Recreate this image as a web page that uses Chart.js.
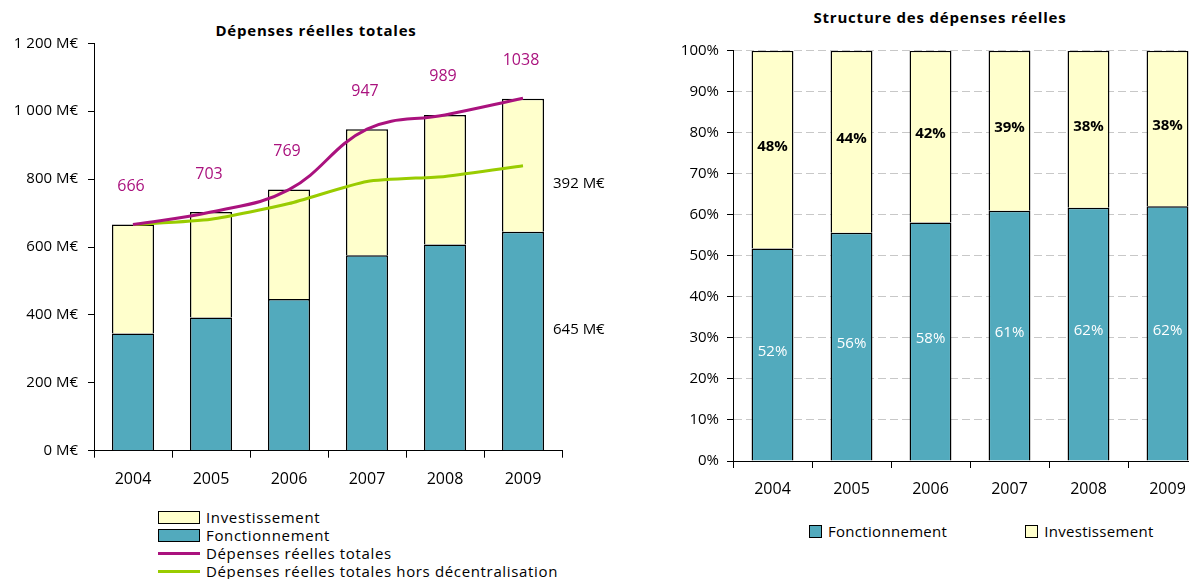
<!DOCTYPE html>
<html>
<head>
<meta charset="utf-8">
<script src="https://cdn.jsdelivr.net/npm/chart.js@4.4.0/dist/chart.umd.min.js"></script>
<style>
  body { margin: 0; width: 1189px; height: 579px; overflow: hidden; background: #fff; font-family: "Open Sans", "Noto Sans", sans-serif; color: #000; }
  .title { position: absolute; font-weight: bold; font-size: 15px; white-space: nowrap; transform: translate(-50%, -50%); letter-spacing: 0.8px; }
  canvas { position: absolute; top: 0; }
  .legend { position: absolute; font-size: 15px; letter-spacing: 0.3px; }
  #legendLeft { letter-spacing: 0.65px; }
  .legend .row { display: flex; align-items: center; height: 18px; }
  .legend .item { display: inline-flex; align-items: center; }
  .sw { display: inline-block; box-sizing: border-box; border: 1.5px solid #000; }
  .ln { display: inline-block; height: 3px; }
</style>
</head>
<body>
<div class="title" style="left:316px; top:30px;">Dépenses réelles totales</div>
<div class="title" style="left:940px; top:17px;">Structure des dépenses réelles</div>
<canvas id="left" width="610" height="500" style="left:0"></canvas>
<canvas id="right" width="620" height="510" style="left:600px"></canvas>
<div id="legendLeft" class="legend" style="left:158px; top:508px;"></div>
<div id="legendRight" class="legend" style="left:809px; top:522px;"></div>
<script>
const years = ['2004', '2005', '2006', '2007', '2008', '2009'];
const fonctionnement = [345, 392, 447, 576, 607, 645];
const investissement = [321, 311, 322, 371, 382, 392];
const depensesTotales = [666, 703, 769, 947, 989, 1038];
const horsDecentralisation = [666, 682, 728, 793, 808, 839];
const partFonct = [51.8, 55.6, 58.1, 61.0, 61.7, 62.1];
const partInvest = [48.2, 44.4, 41.9, 39.0, 38.3, 37.9];
const sideNotes = [{ text: '392 M€', value: 785 }, { text: '645 M€', value: 355 }];

const TEAL = '#52aabd';
const CREAM = '#ffffcc';
const MAGENTA = '#aa127e';
const GREEN = '#99cc00';

Chart.defaults.font.family = '"Open Sans", "Noto Sans", sans-serif';
Chart.defaults.color = '#000';

const euro = v => (v >= 1000 ? Math.floor(v / 1000) + ' ' + String(v % 1000).padStart(3, '0') : v) + ' M€';

const totalLabels = {
  id: 'totalLabels',
  afterDatasetsDraw(chart) {
    const ctx = chart.ctx;
    const meta = chart.getDatasetMeta(0);
    ctx.save();
    ctx.fillStyle = MAGENTA;
    ctx.font = '500 16px "Open Sans", "Noto Sans", sans-serif';
    ctx.textAlign = 'center';
    ctx.textBaseline = 'middle';
    meta.data.forEach((pt, i) => {
      ctx.fillText(String(depensesTotales[i]), pt.x - 2, pt.y - 38);
    });
    ctx.fillStyle = '#000';
    ctx.font = '15px "Open Sans", "Noto Sans", sans-serif';
    ctx.textAlign = 'left';
    sideNotes.forEach(n => {
      ctx.fillText(n.text, chart.chartArea.right - 9, chart.scales.y.getPixelForValue(n.value));
    });
    ctx.restore();
  }
};

const leftChart = new Chart(document.getElementById('left'), {
  type: 'bar',
  data: {
    labels: years,
    datasets: [
      { type: 'line', label: 'Dépenses réelles totales', data: depensesTotales, borderColor: MAGENTA, borderWidth: 3, tension: 0.4, pointRadius: 0, stack: 'l1', order: 0 },
      { type: 'line', label: 'Dépenses réelles totales hors décentralisation', data: horsDecentralisation, borderColor: GREEN, borderWidth: 3, tension: 0.2, pointRadius: 0, stack: 'l2', order: 0 },
      { label: 'Fonctionnement', data: fonctionnement, backgroundColor: TEAL, borderColor: '#000', borderWidth: 1.5, stack: 'bars', order: 1 },
      { label: 'Investissement', data: investissement, backgroundColor: CREAM, borderColor: '#000', borderWidth: 1.5, stack: 'bars', order: 1 }
    ]
  },
  options: {
    responsive: false,
    animation: false,
    layout: { padding: { top: 43.3, right: 48, left: 0, bottom: 0 } },
    datasets: { bar: { categoryPercentage: 1, barPercentage: 0.54 } },
    plugins: { legend: { display: false }, tooltip: { enabled: false } },
    scales: {
      x: {
        stacked: true,
        grid: { offset: true, drawOnChartArea: false, tickLength: 7, color: '#000' },
        border: { color: '#000' },
        ticks: { padding: 12, font: { size: 16 } },
        afterFit: s => { s.height = 49.3; }
      },
      y: {
        stacked: true,
        min: 0,
        max: 1200,
        ticks: { stepSize: 200, callback: v => euro(v), padding: 10, font: { size: 15 } },
        grid: { drawOnChartArea: false, tickLength: 6, color: '#000' },
        border: { color: '#000' },
        afterFit: s => { s.width = 94; }
      }
    }
  },
  plugins: [totalLabels]
});

const shareLabels = {
  id: 'shareLabels',
  afterDatasetsDraw(chart) {
    const ctx = chart.ctx;
    ctx.save();
    ctx.textAlign = 'center';
    ctx.textBaseline = 'middle';
    [[0, partFonct, '#fff', 'normal'], [1, partInvest, '#000', 'bold']].forEach(([idx, vals, color, weight]) => {
      chart.getDatasetMeta(idx).data.forEach((bar, i) => {
        ctx.fillStyle = color;
        ctx.font = weight + ' 15px "Open Sans", "Noto Sans", sans-serif';
        ctx.fillText(Math.round(vals[i]) + '%', bar.x, (bar.y + bar.base) / 2 - 3);
      });
    });
    ctx.restore();
  }
};

const rightChart = new Chart(document.getElementById('right'), {
  type: 'bar',
  data: {
    labels: years,
    datasets: [
      { label: 'Fonctionnement', data: partFonct, backgroundColor: TEAL, borderColor: '#000', borderWidth: 1.5 },
      { label: 'Investissement', data: partInvest, backgroundColor: CREAM, borderColor: '#000', borderWidth: 1.5 }
    ]
  },
  options: {
    responsive: false,
    animation: false,
    layout: { padding: { top: 50.7, right: 13, left: 0, bottom: 0 } },
    datasets: { bar: { categoryPercentage: 1, barPercentage: 0.53 } },
    plugins: { legend: { display: false }, tooltip: { enabled: false } },
    scales: {
      x: {
        stacked: true,
        grid: { offset: true, drawOnChartArea: false, tickLength: 7, color: '#000' },
        border: { color: '#000' },
        ticks: { padding: 12, font: { size: 16 } },
        afterFit: s => { s.height = 49; }
      },
      y: {
        stacked: true,
        min: 0,
        max: 100,
        ticks: { stepSize: 10, callback: v => v + '%', padding: 8, font: { size: 15 } },
        grid: { color: '#c8c8c8', tickColor: '#000', tickLength: 6, tickBorderDash: [] },
        border: { color: '#000', dash: [8, 4] },
        afterFit: s => { s.width = 133; }
      }
    }
  },
  plugins: [shareLabels]
});

// HTML legends
function swatch(ds) {
  if (ds.type === 'line') return '<span class="ln" style="width:42px;background:' + ds.borderColor + '"></span>';
  return '<span class="sw" style="width:42px;height:13px;background:' + ds.backgroundColor + '"></span>';
}
const leftOrder = [3, 2, 0, 1];
document.getElementById('legendLeft').innerHTML = leftOrder.map(i => {
  const ds = leftChart.data.datasets[i];
  return '<div class="row">' + swatch(ds) + '<span style="margin-left:6px">' + ds.label + '</span></div>';
}).join('');

document.getElementById('legendRight').innerHTML = '<div class="row">' + rightChart.data.datasets.map((ds, i) =>
  '<span class="item" style="margin-left:' + (i ? 78 : 0) + 'px"><span class="sw" style="width:13px;height:13px;background:' + ds.backgroundColor + '"></span><span style="margin-left:6px">' + ds.label + '</span></span>'
).join('') + '</div>';
</script>
</body>
</html>
